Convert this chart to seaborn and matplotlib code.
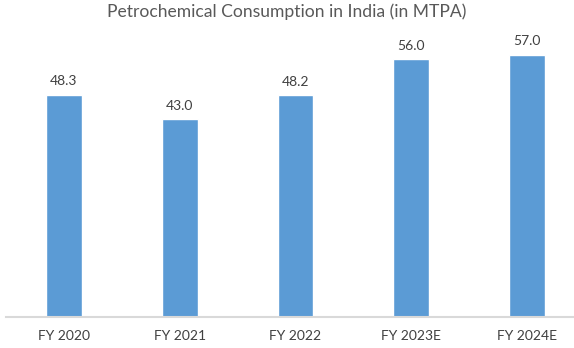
import matplotlib
matplotlib.use("Agg")
import matplotlib.pyplot as plt
import seaborn as sns
import pandas as pd

categories = ["FY 2020", "FY 2021", "FY 2022", "FY 2023E", "FY 2024E"]
values = [48.3, 43.0, 48.2, 56.0, 57.0]

sns.set_theme(style="white")
plt.rcParams['font.family'] = ['Lato', 'DejaVu Sans']

df = pd.DataFrame({"cat": categories, "val": values})

fig = plt.figure(figsize=(5.74, 3.48), dpi=100)
ax = fig.add_axes([6/574, (348-317)/348, 1 - 6/574, (317-40)/348])
sns.barplot(data=df, x="cat", y="val", color="#5B9BD5", width=0.31, ax=ax, saturation=1)
ax.set_xlim(-0.5, 4.5 - 11/115.75)
ax.set_ylim(0, (317-40)/4.6)
ax.set_xlabel("")
ax.set_ylabel("")
ax.set_yticks([])
for s in ["top", "right", "left"]:
    ax.spines[s].set_visible(False)
ax.spines["bottom"].set_color("#D9D9D9")
ax.spines["bottom"].set_linewidth(1.5)
ax.tick_params(axis="x", length=0, pad=9, labelsize=10, labelcolor="#404040")
for i, v in enumerate(values):
    ax.text(i, v + 1.6, f"{v:.1f}", ha="center", va="bottom", fontsize=10, color="#404040")
fig.text(0.5, 1 - 12/348, "Petrochemical Consumption in India (in MTPA)", ha="center", va="center",
         fontsize=12.6, color="#595959")
fig.savefig("out.png", dpi=100)
